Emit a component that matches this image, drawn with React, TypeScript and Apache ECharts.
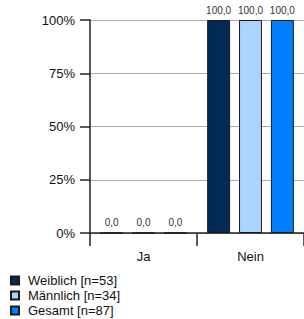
import React, { useEffect, useRef } from "react";
import * as echarts from "echarts";

const categories = ["Ja", "Nein"];
const seriesNames = ["Weiblich [n=53]", "Männlich [n=34]", "Gesamt [n=87]"];
const weiblich = [0, 100];
const maennlich = [0, 100];
const gesamt = [0, 100];
const colors = ["#002b55", "#aad4ff", "#0080ff"];
const yTicks = [0, 25, 50, 75, 100];

export default function App() {
  const ref = useRef<HTMLDivElement>(null);
  useEffect(() => {
    document.body.style.margin = "0";
    const chart = echarts.init(ref.current!, null, { renderer: "svg" });
    const values = [weiblich, maennlich, gesamt];
    const font = "Liberation Sans, Arial, sans-serif";
    chart.setOption({
      animation: false,
      textStyle: { fontFamily: font },
      grid: { left: 90, top: 20, bottom: 86, right: -1 },
      legend: {
        orient: "vertical",
        left: 10,
        top: 274,
        padding: 0,
        itemWidth: 8,
        itemHeight: 8,
        itemGap: 2,
        icon: "rect",
        textStyle: { fontSize: 13, lineHeight: 13, color: "#111", fontFamily: font, padding: [0, 0, 0, 4] },
        data: seriesNames,
      },
      xAxis: {
        type: "category",
        data: categories,
        axisLine: { lineStyle: { color: "#222", width: 1.5 } },
        axisTick: { show: true, length: 13, lineStyle: { color: "#222", width: 1.5 } },
        axisLabel: { color: "#111", fontSize: 13, margin: 17, fontFamily: font },
      },
      yAxis: {
        type: "value",
        min: 0,
        max: 100,
        interval: 25,
        axisLine: { show: true, lineStyle: { color: "#222", width: 1.5 } },
        axisTick: { show: true, length: 10, lineStyle: { color: "#222", width: 1.5 } },
        axisLabel: {
          color: "#111",
          fontSize: 13,
          margin: 15,
          fontFamily: font,
          formatter: (v: number) => (yTicks.includes(v) ? v + "%" : ""),
        },
        splitLine: { show: true, lineStyle: { color: "#aaaaaa", width: 1 } },
      },
      series: seriesNames.map((name, i) => ({
        name,
        type: "bar",
        data: values[i],
        barGap: "39%",
        barCategoryGap: "19%",
        itemStyle: { color: colors[i], borderColor: "#1a1a1a", borderWidth: 1 },
        label: {
          show: true,
          position: "top",
          distance: 5,
          fontSize: 10,
          color: "#333",
          fontFamily: font,
          formatter: (p: any) => Number(p.value).toFixed(1).replace(".", ","),
        },
      })),
    });
    return () => chart.dispose();
  }, []);
  return <div ref={ref} style={{ position: "absolute", left: 0, top: 0, width: 304, height: 319 }} />;
}
